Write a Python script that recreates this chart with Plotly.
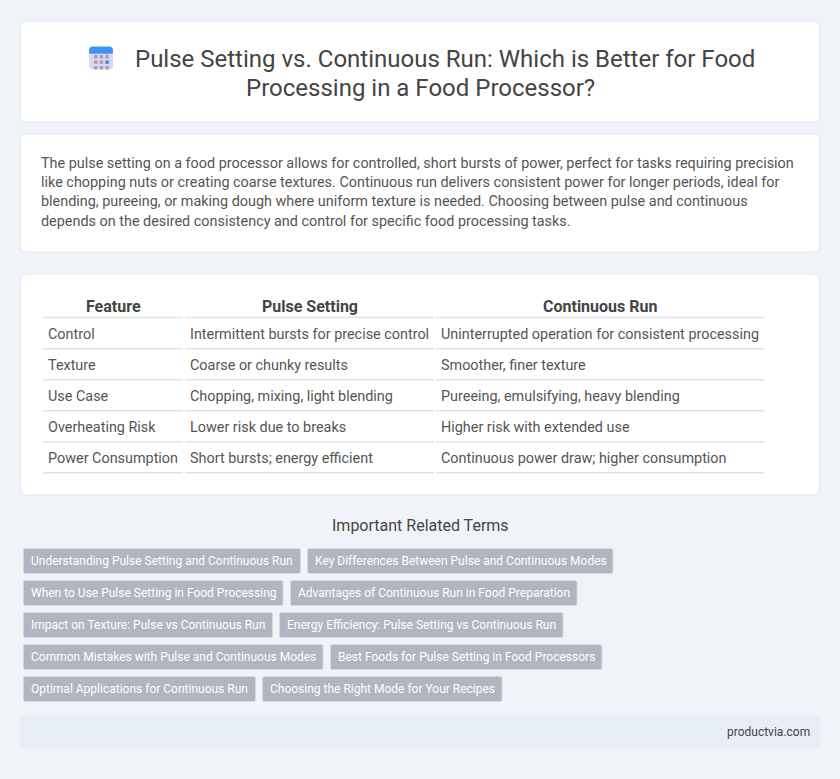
"""Comparison page: pulse setting vs continuous run, drawn on a pixel-sized plotly canvas"""

import plotly.graph_objects as go

title_lines = ["Pulse Setting vs. Continuous Run: Which is Better for Food", "Processing in a Food Processor?"]
intro_lines = [
    "The pulse setting on a food processor allows for controlled, short bursts of power, perfect for tasks requiring precision",
    "like chopping nuts or creating coarse textures. Continuous run delivers consistent power for longer periods, ideal for",
    "blending, pureeing, or making dough where uniform texture is needed. Choosing between pulse and continuous",
    "depends on the desired consistency and control for specific food processing tasks.",
]
table_header = ["Feature", "Pulse Setting", "Continuous Run"]
features = ["Control", "Texture", "Use Case", "Overheating Risk", "Power Consumption"]
pulse_setting = [
    "Intermittent bursts for precise control",
    "Coarse or chunky results",
    "Chopping, mixing, light blending",
    "Lower risk due to breaks",
    "Short bursts; energy efficient",
]
continuous_run = [
    "Uninterrupted operation for consistent processing",
    "Smoother, finer texture",
    "Pureeing, emulsifying, heavy blending",
    "Higher risk with extended use",
    "Continuous power draw; higher consumption",
]
related_heading = "Important Related Terms"
related_terms = [
    ["Understanding Pulse Setting and Continuous Run", "Key Differences Between Pulse and Continuous Modes"],
    ["When to Use Pulse Setting in Food Processing", "Advantages of Continuous Run in Food Preparation"],
    ["Impact on Texture: Pulse vs Continuous Run", "Energy Efficiency: Pulse Setting vs Continuous Run"],
    ["Common Mistakes with Pulse and Continuous Modes", "Best Foods for Pulse Setting in Food Processors"],
    ["Optimal Applications for Continuous Run", "Choosing the Right Mode for Your Recipes"],
]
site_name = "productvia.com"

FONT = "Roboto"
TEXT = "#555555"
HEAD = "#444444"


def rounded(x0, y0, x1, y1, r):
    return (f"M{x0 + r},{y0} L{x1 - r},{y0} Q{x1},{y0} {x1},{y0 + r} L{x1},{y1 - r} Q{x1},{y1} {x1 - r},{y1} "
            f"L{x0 + r},{y1} Q{x0},{y1} {x0},{y1 - r} L{x0},{y0 + r} Q{x0},{y0} {x0 + r},{y0} Z")


shapes = []
notes = []


def box(x0, y0, x1, y1, r, fill, line=None):
    shapes.append(dict(type="path", path=rounded(x0, y0, x1, y1, r), fillcolor=fill,
                       line=dict(color=line or fill, width=1 if line else 0), layer="below"))


def label(x, y, text, size, color=TEXT, anchor="left", bold=False):
    notes.append(dict(x=x, y=y, text=f"<b>{text}</b>" if bold else text, xref="x", yref="y", showarrow=False,
                      xanchor=anchor, yanchor="middle", align=anchor, borderpad=0,
                      font=dict(family=FONT, size=size, color=color)))


# cards
for top, bottom in [(21, 122), (134, 252), (274, 495)]:
    box(20.5, top, 819.5, bottom, 6, "#ffffff", "#e3e7f1")

# icon
box(89, 47, 113, 69.5, 4, "#ddd6ee")
box(89, 46.5, 113, 53.5, 4, "#3f93f8")
shapes.append(dict(type="rect", x0=89, x1=113, y0=50, y1=53.5, fillcolor="#3f93f8", line_width=0, layer="below"))
for i in range(3):
    for j in range(3):
        shapes.append(dict(type="rect", x0=94 + 5.7 * i, x1=97.4 + 5.7 * i, y0=55 + 5.5 * j, y1=58.4 + 5.5 * j,
                           fillcolor="#2f8df0" if (i, j) == (2, 1) else "#a5a1b2", line_width=0, layer="below"))

# title and intro
label(445, 59, title_lines[0], 24, HEAD, "center")
label(420.5, 88, title_lines[1], 24, HEAD, "center")
for i, line in enumerate(intro_lines):
    label(40, 163 + i * 19.4, line, 14.4)

# table
columns = [(43, 183), (185, 434), (436, 764)]
for (x0, x1), head, cells in zip(columns, table_header, [features, pulse_setting, continuous_run]):
    label((x0 + x1) / 2, 306, head, 16, HEAD, "center", bold=True)
    shapes.append(dict(type="line", x0=x0, x1=x1, y0=317.5, y1=317.5, line=dict(color="#e2e2e2", width=1.5), layer="below"))
    for i, text in enumerate(cells):
        label(x0 + 4, 334 + i * 31, text, 14.4)
        y = 348.8 + i * 31
        shapes.append(dict(type="line", x0=x0, x1=x1, y0=y, y1=y, line=dict(color="#e2e2e2", width=1.5), layer="below"))

# related terms
label(420, 525, related_heading, 16, HEAD, "center")
chip_edges = [[(23.5, 300.5), (307.5, 613)], [(23.5, 283), (290.5, 577)], [(23.5, 272.5), (279.5, 563)],
              [(23.5, 323), (330.5, 602)], [(23.5, 255.5), (262.5, 502)]]
for i, (row, edges) in enumerate(zip(related_terms, chip_edges)):
    y0 = 548.5 + i * 32
    for text, (x0, x1) in zip(row, edges):
        box(x0, y0, x1, y0 + 25, 2, "#b0b6c0", "#d5d8dd")
        label(x0 + 6.5, y0 + 12.5, text, 12, "#ffffff")

# footer
shapes.append(dict(type="rect", x0=20, x1=820, y0=715, y1=749, fillcolor="#e8eef7", line_width=0, layer="below"))
label(811, 732, site_name, 12, HEAD, "right")

fig = go.Figure()
fig.update_layout(
    width=840,
    height=779,
    margin=dict(l=0, r=0, t=0, b=0),
    paper_bgcolor="#f0f4f9",
    plot_bgcolor="#f0f4f9",
    showlegend=False,
    shapes=shapes,
    annotations=notes,
)
fig.update_xaxes(range=[0, 840], visible=False, fixedrange=True)
fig.update_yaxes(range=[779, 0], visible=False, fixedrange=True)

fig.write_html("out.html", config={"displayModeBar": False},
               post_script="document.body.style.margin='0';document.documentElement.style.overflow='hidden';")
